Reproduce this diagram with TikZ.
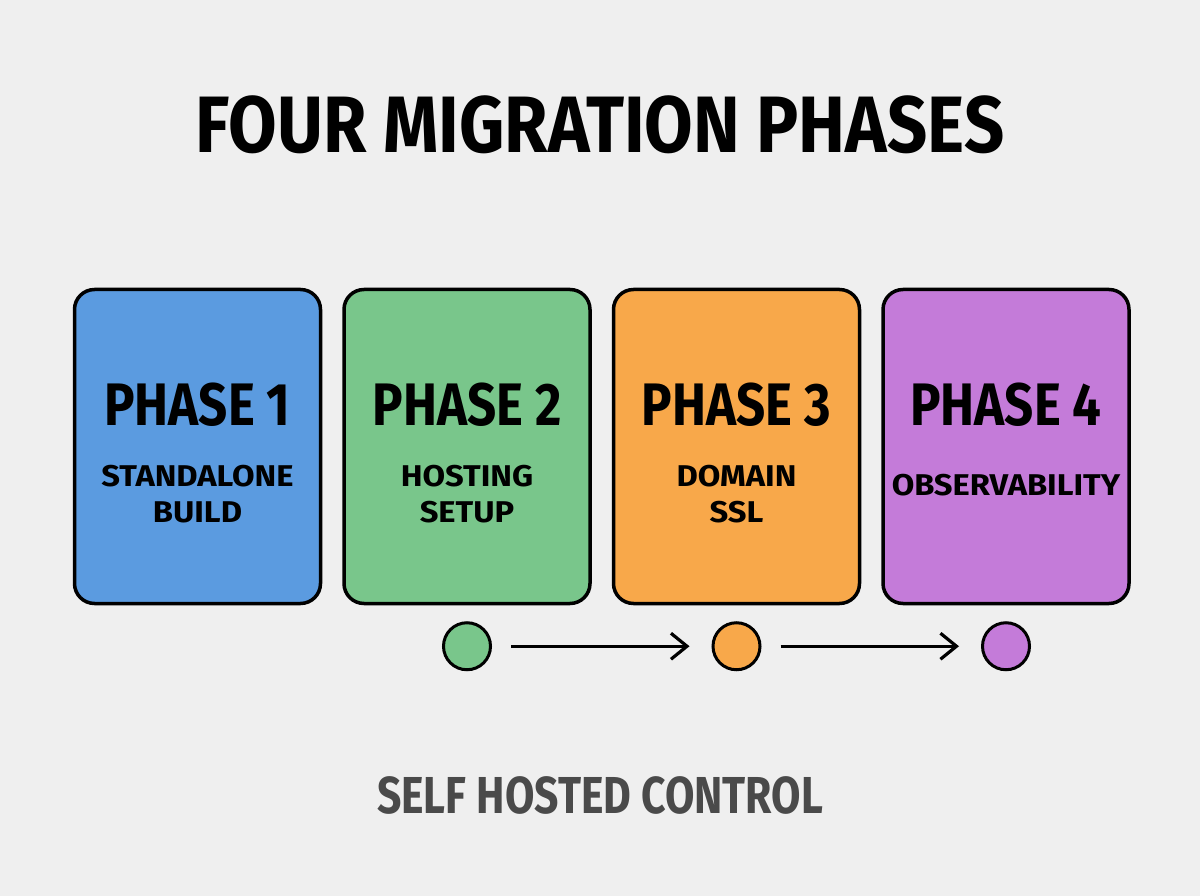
\documentclass[tikz,border=0pt]{standalone}
\usepackage{fontspec}
\setmainfont{Fira Sans}
\newfontfamily\titlefont[FakeStretch=0.88]{Fira Sans}
\newfontfamily\condfont[FakeStretch=0.85]{Fira Sans}
\newfontfamily\footfont[FakeStretch=0.82]{Fira Sans}
\newfontfamily\widefont[FakeStretch=1.09]{Fira Sans}
\usetikzlibrary{positioning,arrows.meta}

\definecolor{bgGray}{HTML}{EFEFEF}
\definecolor{phaseBlue}{HTML}{5B9BE0}
\definecolor{phaseGreen}{HTML}{79C68B}
\definecolor{phaseOrange}{HTML}{F8A84A}
\definecolor{phasePurple}{HTML}{C47BD9}
\definecolor{footGray}{HTML}{4A4A4A}

\begin{document}
\begin{tikzpicture}[x=1pt, y=-1pt,
    phaseBox/.style={draw, rounded corners=20pt, minimum width=246pt, minimum height=314pt, line width=3.5pt},
    phaseLabel/.style={font=\condfont\bfseries\fontsize{60}{60}\selectfont},
    phaseText/.style={font=\widefont\bfseries\fontsize{30}{36}\selectfont, align=center},
    dotNode/.style={circle, draw, minimum size=47pt, line width=3pt},
    arrow/.style={-{Straight Barb[length=16pt,width=26pt]}, line width=3.2pt, shorten <=19pt, shorten >=22pt}
  ]

  % Canvas
  \useasboundingbox (0,0) rectangle (1200,896);
  \fill[bgGray] (0,0) rectangle (1200,896);

  % Title
  \node[font=\titlefont\bfseries\fontsize{80}{80}\selectfont] (title) at (600,125) {FOUR MIGRATION PHASES};

  % Phase boxes
  \node[phaseBox, fill=phaseBlue] (p1) at (197.5,446.5) {};
  \node[phaseBox, fill=phaseGreen, right=20pt of p1] (p2) {};
  \node[phaseBox, fill=phaseOrange, right=20pt of p2] (p3) {};
  \node[phaseBox, fill=phasePurple, right=20pt of p3] (p4) {};

  % Labels
  \node[phaseLabel] (l1) at ([yshift=42pt]p1.center) {PHASE 1};
  \node[phaseLabel] (l2) at ([yshift=42pt]p2.center) {PHASE 2};
  \node[phaseLabel] (l3) at ([yshift=42pt]p3.center) {PHASE 3};
  \node[phaseLabel] (l4) at ([yshift=42pt]p4.center) {PHASE 4};
  \node[phaseText] (t1) at ([yshift=-48pt]p1.center) {STANDALONE\\BUILD};
  \node[phaseText] (t2) at ([yshift=-48pt]p2.center) {HOSTING\\SETUP};
  \node[phaseText] (t3) at ([yshift=-48pt]p3.center) {DOMAIN\\SSL};
  \node[phaseText] (t4) at ([yshift=-38.5pt]p4.center) {OBSERVABILITY};

  % Progress dots
  \node[dotNode, fill=phaseGreen, below=16pt of p2] (d2) {};
  \node[dotNode, fill=phaseOrange, below=16pt of p3] (d3) {};
  \node[dotNode, fill=phasePurple, below=16pt of p4] (d4) {};

  % Arrows
  \draw[arrow] (d2) -- (d3);
  \draw[arrow] (d3) -- (d4);

  % Footer
  \node[font=\footfont\bfseries\fontsize{52}{52}\selectfont, text=footGray] (footer) at (600,795) {SELF HOSTED CONTROL};

\end{tikzpicture}
\end{document}
